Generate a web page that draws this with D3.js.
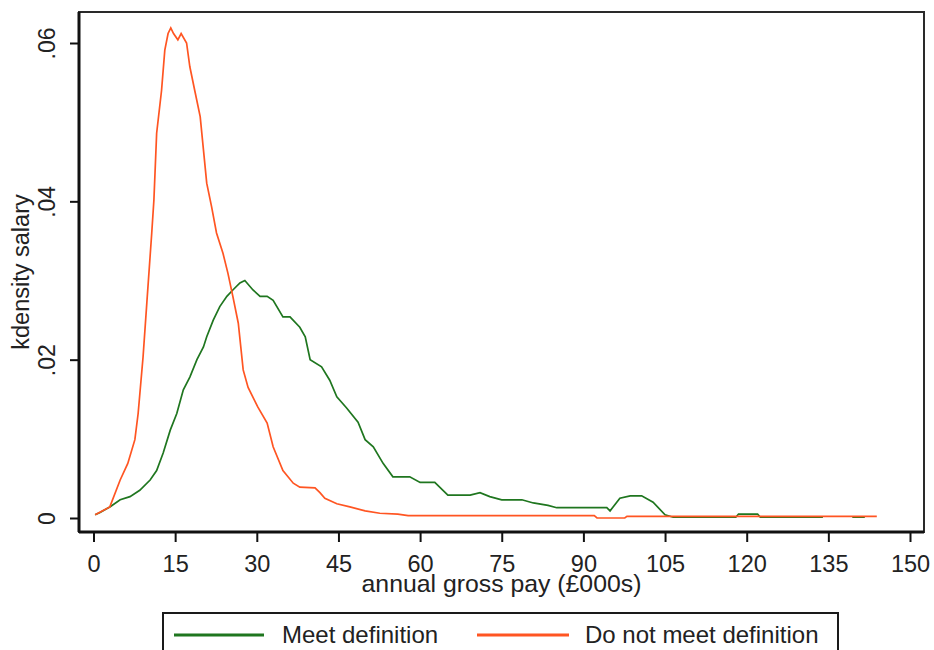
<!DOCTYPE html>
<html>
<head>
<meta charset="utf-8">
<script src="https://cdn.jsdelivr.net/npm/d3@7"></script>
<style>
  body { margin: 0; background: #fff; }
  svg text { font-family: "Liberation Sans", Arial, sans-serif; fill: #222; }
</style>
</head>
<body>
<div id="chart"></div>
<script>
/* DATA */
const meetX = [0.3, 1.2, 3, 4.9, 6.7, 8.5, 10.4, 11.6, 12.8, 14.1, 15.3, 16.5, 17.7, 19, 20.2, 20.8, 22, 23.2, 24.5, 25.6, 26.9, 27.8, 29.3, 30.6, 31.9, 33, 34.8, 36.1, 37.9, 38.9, 39.8, 41.9, 43.4, 44.7, 46.5, 48.6, 49.9, 51.4, 53.2, 55, 58.1, 60, 62.7, 65.1, 69.2, 71, 72.8, 75, 78.7, 80.8, 83.5, 85.1, 94.3, 94.9, 96.7, 98.6, 100.7, 102.8, 105, 106.5, 118, 118.5, 122, 122.5, 134, 136, 139.4, 141.7];
const meetY = [.0004, .0007, .0014, .0023, .0027, .0035, .0048, .006, .0082, .0111, .0132, .0162, .0178, .020, .0216, .0229, .025, .0267, .028, .0288, .0297, .030, .0288, .028, .028, .0275, .0254, .0254, .0241, .0229, .0200, .0191, .0174, .0153, .0139, .0121, .0099, .009, .0069, .0052, .0052, .0045, .0045, .0029, .0029, .0032, .0027, .0023, .0023, .0019, .0016, .0013, .0013, .0009, .0025, .0028, .0028, .002, .0004, .0001, .0001, .0005, .0005, .0001, .0001, null, .0001, .0001];

const notX = [0.3, 3.0, 4.9, 6.3, 7.6, 8.2, 9.1, 9.8, 10.7, 11.1, 11.6, 12.5, 13.1, 13.7, 14.2, 14.7, 15.5, 16.1, 17.1, 17.7, 18.6, 19.6, 20.2, 20.8, 21.7, 22.6, 23.8, 24.7, 25.6, 26.6, 27.5, 28.4, 30.2, 31.9, 33.0, 34.8, 36.7, 37.9, 40.7, 41.6, 42.5, 44.7, 47.1, 49.9, 52.6, 55.9, 57.8, 92, 92.5, 97.6, 98, 143.9];
const notY = [.0004, .0014, .0048, .0069, .0099, .0132, .0203, .0272, .036, .0402, .0486, .054, .0591, .0612, .0619, .0612, .0604, .0612, .060, .057, .054, .0507, .0465, .0423, .0393, .036, .0334, .0309, .0280, .0246, .0187, .0165, .014, .012, .009, .006, .0044, .0039, .0038, .0032, .0025, .0018, .0014, .0009, .0006, .0005, .0003, .0003, 0, 0, .0002, .0002];

const xTicks = [0, 15, 30, 45, 60, 75, 90, 105, 120, 135, 150];
const yTicks = [0, 0.02, 0.04, 0.06];
const yTickLabels = ["0", ".02", ".04", ".06"];
const seriesNames = ["Meet definition", "Do not meet definition"];
const seriesColors = ["#1f761f", "#ff5522"];

/* LAYOUT */
const width = 934, height = 650;
const frame = { left: 79, top: 12, right: 924, bottom: 532 };
const fontFamily = "Liberation Sans, Arial, sans-serif";

const svg = d3.select("#chart").append("svg")
  .attr("width", width)
  .attr("height", height);

const xScale = d3.scaleLinear().domain([0, 150]).range([93.5, 910]);
const yScale = d3.scaleLinear().domain([0, 0.06]).range([518, 43]);

// plot frame
svg.append("rect")
  .attr("x", frame.left).attr("y", frame.top)
  .attr("width", frame.right - frame.left)
  .attr("height", frame.bottom - frame.top)
  .attr("fill", "none")
  .attr("stroke", "#2a2a2a")
  .attr("stroke-width", 2);

// x axis
const xAxis = d3.axisBottom(xScale).tickValues(xTicks).tickSize(10).tickPadding(13).tickSizeOuter(0);
const gx = svg.append("g")
  .attr("transform", `translate(0,${frame.bottom})`)
  .call(xAxis);
gx.select(".domain")
  .attr("d", `M${frame.left},0H${frame.right}`)
  .attr("stroke", "#111").attr("stroke-width", 3);
gx.selectAll(".tick line").attr("stroke", "#111").attr("stroke-width", 2);
gx.selectAll(".tick text").attr("font-size", 23.5).attr("fill", "#222")
  .attr("font-family", fontFamily);

// y axis
const yAxis = d3.axisLeft(yScale).tickValues(yTicks).tickSize(9).tickSizeOuter(0)
  .tickFormat((d, i) => yTickLabels[i]);
const gy = svg.append("g")
  .attr("transform", `translate(${frame.left},0)`)
  .call(yAxis);
gy.select(".domain")
  .attr("d", `M0,${frame.top}V${frame.bottom}`)
  .attr("stroke", "#111").attr("stroke-width", 3);
gy.selectAll(".tick line").attr("stroke", "#111").attr("stroke-width", 2);
gy.selectAll(".tick text")
  .attr("font-size", 23).attr("fill", "#222")
  .attr("font-family", fontFamily)
  .attr("text-anchor", "middle")
  .attr("x", 0).attr("dy", 0)
  .attr("transform", "translate(-24,0) rotate(-90)");

// axis titles
svg.append("text")
  .attr("x", (frame.left + frame.right) / 2)
  .attr("y", 592)
  .attr("text-anchor", "middle")
  .attr("font-size", 24.8)
  .text("annual gross pay (£000s)");

svg.append("text")
  .attr("transform", `translate(29,${(frame.top + frame.bottom) / 2}) rotate(-90)`)
  .attr("text-anchor", "middle")
  .attr("font-size", 23.5)
  .text("kdensity salary");

// lines
const lineFunc = d3.line()
  .defined(d => d[1] !== null)
  .x(d => xScale(d[0]))
  .y(d => yScale(d[1]));

const series = [
  meetX.map((x, i) => [x, meetY[i]]),
  notX.map((x, i) => [x, notY[i]])
];

svg.selectAll("path.kd")
  .data(series)
  .join("path")
  .attr("class", "kd")
  .attr("fill", "none")
  .attr("stroke", (d, i) => seriesColors[i])
  .attr("stroke-width", 1.7)
  .attr("d", lineFunc);

// legend
svg.append("rect")
  .attr("x", 163).attr("y", 613)
  .attr("width", 675).attr("height", 60)
  .attr("fill", "#fff")
  .attr("stroke", "#1a1a1a")
  .attr("stroke-width", 2);

const legendPos = [
  { x1: 174, x2: 264, tx: 282 },
  { x1: 477, x2: 569, tx: 585 }
];

const legend = svg.selectAll("g.legend-item")
  .data(seriesNames)
  .join("g")
  .attr("class", "legend-item");

legend.append("line")
  .attr("x1", (d, i) => legendPos[i].x1)
  .attr("x2", (d, i) => legendPos[i].x2)
  .attr("y1", 635).attr("y2", 635)
  .attr("stroke", (d, i) => seriesColors[i])
  .attr("stroke-width", 3);

legend.append("text")
  .attr("x", (d, i) => legendPos[i].tx)
  .attr("y", 643)
  .attr("font-size", 24)
  .text(d => d);
</script>
</body>
</html>
